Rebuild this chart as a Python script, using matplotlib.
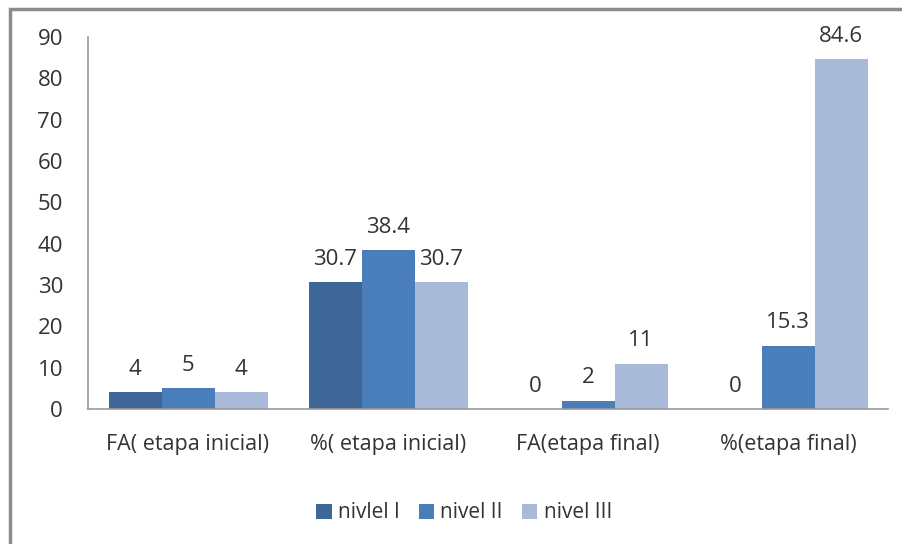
import matplotlib
matplotlib.use("Agg")
import matplotlib.pyplot as plt
import numpy as np
from matplotlib.patches import Rectangle

categories = ["FA( etapa inicial)", "%( etapa inicial)", "FA(etapa final)", "%(etapa final)"]
series_names = ["nivlel I", "nivel II", "nivel III"]
nivel1 = [4, 30.7, 0, 0]
nivel2 = [5, 38.4, 2, 15.3]
nivel3 = [4, 30.7, 11, 84.6]
labels1 = ["4", "30.7", "0", "0"]
labels2 = ["5", "38.4", "2", "15.3"]
labels3 = ["4", "30.7", "11", "84.6"]
yticks = [0, 10, 20, 30, 40, 50, 60, 70, 80, 90]

colors = ["#3E6699", "#4A7EBB", "#A9B9D8"]
text_color = "#333333"

plt.rcParams['font.family'] = ['Open Sans', 'DejaVu Sans']

fig = plt.figure(figsize=(9.03, 5.44), dpi=100)
fig.patch.set_facecolor("white")
# outer frame
fig.add_artist(Rectangle((10/903, -0.01), 1.0, 1 - 9/544 + 0.01, transform=fig.transFigure,
                         fill=False, edgecolor="#8C8C8C", linewidth=2.5))

ax = fig.add_axes([88/903, 1 - 409/544, 800/903, (409 - 37)/544])
x = np.arange(len(categories))
w = 0.265
for i, (vals, labs) in enumerate(zip([nivel1, nivel2, nivel3], [labels1, labels2, labels3])):
    pos = x + (i - 1) * w
    ax.bar(pos, vals, width=w, color=colors[i], label=series_names[i], edgecolor="none")
    for p, v, l in zip(pos, vals, labs):
        ax.annotate(l, (p, v), xytext=(0, 9), textcoords="offset points",
                    ha="center", va="bottom", fontsize=16, color=text_color)

ax.set_xlim(-0.5, 3.5)
ax.set_ylim(0, 90)
ax.set_yticks(yticks)
ax.set_yticklabels([str(t) for t in yticks])
ax.set_xticks(x)
ax.set_xticklabels(categories)
ax.tick_params(axis="y", length=0, pad=18, labelsize=16, labelcolor=text_color)
ax.tick_params(axis="x", length=0, pad=18, labelsize=15.5, labelcolor=text_color)
for s in ["top", "right"]:
    ax.spines[s].set_visible(False)
for s in ["left", "bottom"]:
    ax.spines[s].set_color("#999999")
    ax.spines[s].set_linewidth(1.2)

leg = fig.legend(loc="center", bbox_to_anchor=(464/903, 1 - 513/544), ncol=3, frameon=False,
                 fontsize=15, handlelength=0.75, handleheight=0.75, handletextpad=0.3,
                 columnspacing=0.9, labelcolor=text_color)

fig.savefig("out.png", dpi=100, facecolor="white")
